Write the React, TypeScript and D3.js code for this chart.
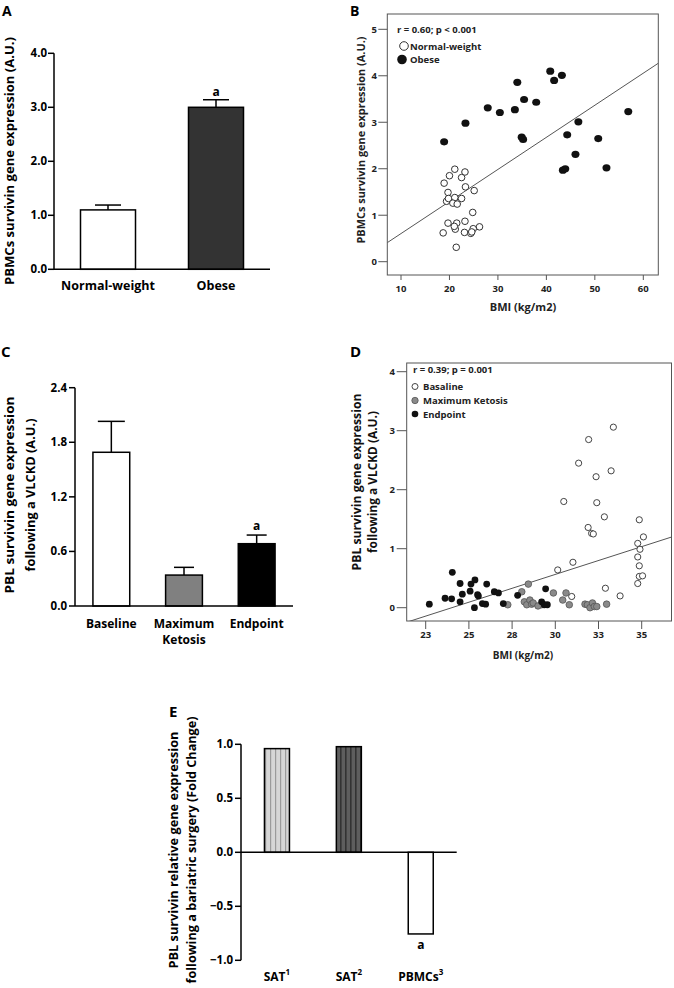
import React from 'react';
import * as d3 from 'd3';

const FONT = "'Open Sans', 'DejaVu Sans', sans-serif";

// ---------- Panel A ----------
const aCategories = ['Normal-weight', 'Obese'];
const aMeans = [1.1, 3.0];
const aErrors = [0.09, 0.14];
const aFills = ['#ffffff', '#333333'];
const aTicks = [0, 1, 2, 3, 4];
const aSignif = ['', 'a'];

// ---------- Panel B ----------
const bNormalBmi = [21.1, 23.2, 20.0, 22.5, 18.9, 23.3, 25.1, 19.7, 19.4, 19.8, 21.1, 20.7, 21.6, 22.5, 24.8, 19.7, 21.5, 23.2, 18.7, 21.2, 21.0, 23.1, 24.4, 24.9, 26.2, 24.6, 21.4];
const bNormalExpr = [1.99, 1.93, 1.85, 1.81, 1.69, 1.61, 1.53, 1.49, 1.3, 1.36, 1.38, 1.26, 1.24, 1.36, 1.06, 0.83, 0.83, 0.87, 0.62, 0.7, 0.76, 0.63, 0.61, 0.71, 0.75, 0.64, 0.31];
const bObeseBmi = [18.9, 23.3, 27.9, 30.4, 33.5, 34.0, 35.4, 37.9, 34.9, 35.2, 40.8, 41.6, 43.2, 46.6, 44.3, 46.0, 43.4, 43.9, 50.7, 52.4, 56.9];
const bObeseExpr = [2.58, 2.98, 3.31, 3.21, 3.27, 3.86, 3.49, 3.43, 2.68, 2.63, 4.1, 3.9, 4.01, 3.01, 2.73, 2.31, 1.97, 2.0, 2.65, 2.02, 3.23];
const bFitBmi = [7.17, 63.1];
const bFitExpr = [0.41, 4.27];
const bXTicks = [10, 20, 30, 40, 50, 60];
const bYTicks = [0, 1, 2, 3, 4, 5];

// ---------- Panel C ----------
const cCategories = ['Baseline', 'Maximum Ketosis', 'Endpoint'];
const cLabelLines = [['Baseline'], ['Maximum', 'Ketosis'], ['Endpoint']];
const cMeans = [1.69, 0.34, 0.685];
const cErrors = [0.34, 0.085, 0.095];
const cFills = ['#ffffff', '#808080', '#000000'];
const cTicks = [0, 0.6, 1.2, 1.8, 2.4];
const cSignif = ['', '', 'a'];

// ---------- Panel D ----------
const dBaseBmi = [33.36, 31.93, 31.35, 33.23, 32.36, 30.49, 32.4, 32.84, 31.9, 32.1, 32.2, 34.86, 35.1, 34.77, 34.9, 34.77, 34.86, 34.86, 35.05, 34.77, 31.02, 30.14, 32.9, 33.75, 30.95];
const dBaseExpr = [3.06, 2.85, 2.45, 2.32, 2.22, 1.8, 1.78, 1.54, 1.36, 1.26, 1.25, 1.49, 1.2, 1.09, 0.99, 0.86, 0.71, 0.53, 0.54, 0.41, 0.77, 0.64, 0.33, 0.2, 0.19];
const dKetoBmi = [27.25, 28.06, 28.44, 28.21, 28.35, 28.53, 28.63, 28.72, 29.2, 29.89, 30.43, 30.62, 30.81, 31.72, 31.86, 32.01, 32.15, 32.26, 32.4, 32.97, 29.0];
const dKetoExpr = [0.05, 0.27, 0.4, 0.1, 0.05, 0.13, 0.06, 0.08, 0.05, 0.25, 0.13, 0.25, 0.05, 0.06, 0.05, 0.0, 0.08, 0.02, 0.02, 0.06, 0.03];
const dEndBmi = [22.71, 24.04, 23.62, 24.0, 24.49, 24.49, 24.62, 25.12, 25.07, 25.35, 25.55, 25.32, 25.78, 25.97, 26.03, 26.47, 26.71, 26.99, 27.82, 29.44, 29.21, 29.36, 29.54, 25.5];
const dEndExpr = [0.06, 0.6, 0.16, 0.15, 0.41, 0.1, 0.23, 0.4, 0.28, 0.47, 0.2, 0.0, 0.07, 0.06, 0.4, 0.27, 0.25, 0.07, 0.21, 0.32, 0.1, 0.05, 0.05, 0.22];
const dFitBmi = [21.4, 36.75];
const dFitExpr = [-0.246, 1.2];
const dXTicks = [22.5, 25, 27.5, 30, 32.5, 35];
const dXTickLabels = ['23', '25', '28', '30', '33', '35'];
const dYTicks = [0, 1, 2, 3, 4];

// ---------- Panel E ----------
const eCategories = ['SAT1', 'SAT2', 'PBMCs3'];
const eLabels = ['SAT', 'SAT', 'PBMCs'];
const eSups = ['1', '2', '3'];
const eValues = [0.96, 0.978, -0.756];
const eFills = ['url(#stripeLight)', 'url(#stripeDark)', '#ffffff'];
const eTicks = [-1, -0.5, 0, 0.5, 1];
const eSignif = ['', '', 'a'];

const fmt1 = d3.format('.1f');

function PanelA() {
  const y = d3.scaleLinear().domain([0, 4]).range([269.3, 53.3]);
  const x = d3.scalePoint().domain(aCategories).range([54, 270]).padding(0.5);
  const bw = 55;
  return (
    <g>
      <text x={2} y={16} fontFamily={FONT} fontWeight="bold" fontSize={14}>A</text>
      {aCategories.map((c, i) => {
        const cx = x(c)!;
        return (
          <g key={c}>
            <line x1={cx} x2={cx} y1={y(aMeans[i])} y2={y(aMeans[i] + aErrors[i])} stroke="#000" strokeWidth={1.5} />
            <line x1={cx - 13} x2={cx + 13} y1={y(aMeans[i] + aErrors[i])} y2={y(aMeans[i] + aErrors[i])} stroke="#000" strokeWidth={1.5} />
            <rect x={cx - bw / 2} y={y(aMeans[i])} width={bw} height={y(0) - y(aMeans[i])} fill={aFills[i]} stroke="#000" strokeWidth={1.5} />
            {aSignif[i] && (
              <text x={cx} y={y(aMeans[i] + aErrors[i]) - 4} textAnchor="middle" fontFamily={FONT} fontWeight="bold" fontSize={12}>{aSignif[i]}</text>
            )}
            <text x={cx} y={290} textAnchor="middle" fontFamily={FONT} fontWeight="bold" fontSize={12.5}>{c}</text>
          </g>
        );
      })}
      <line x1={54} x2={54} y1={y(4)} y2={y(0)} stroke="#000" strokeWidth={1.5} />
      <line x1={54} x2={270} y1={y(0)} y2={y(0)} stroke="#000" strokeWidth={1.5} />
      {aTicks.map((t) => (
        <g key={t}>
          <line x1={48} x2={54} y1={y(t)} y2={y(t)} stroke="#000" strokeWidth={1.5} />
          <text x={47} y={y(t) + 4} textAnchor="end" fontFamily={FONT} fontWeight="bold" fontSize={11.5}>{fmt1(t)}</text>
        </g>
      ))}
      <text transform="translate(14,161) rotate(-90)" textAnchor="middle" fontFamily={FONT} fontWeight="bold" fontSize={12.5} textLength={248} lengthAdjust="spacingAndGlyphs">PBMCs survivin gene expression (A.U.)</text>
    </g>
  );
}

function PanelB() {
  const x = d3.scaleLinear().domain([10, 60]).range([401, 643.3]);
  const y = d3.scaleLinear().domain([0, 5]).range([261.7, 29.3]);
  const fL = 387.3, fR = 658.3, fT = 14, fB = 275;
  const normal = d3.zip(bNormalBmi, bNormalExpr);
  const obese = d3.zip(bObeseBmi, bObeseExpr);
  const fit = d3.line<[number, number]>().x((d) => x(d[0])).y((d) => y(d[1]))(d3.zip(bFitBmi, bFitExpr) as [number, number][]);
  return (
    <g>
      <defs>
        <clipPath id="clipB"><rect x={fL} y={fT} width={fR - fL} height={fB - fT} /></clipPath>
      </defs>
      <text x={350} y={16} fontFamily={FONT} fontWeight="bold" fontSize={14}>B</text>
      <rect x={fL} y={fT} width={fR - fL} height={fB - fT} fill="#fff" stroke="#555" strokeWidth={1} />
      {bYTicks.map((t) => (
        <g key={t}>
          <line x1={fL - 9} x2={fL} y1={y(t)} y2={y(t)} stroke="#555" strokeWidth={1} />
          <text x={377} y={y(t) + 3.5} textAnchor="end" fontFamily={FONT} fontWeight="bold" fontSize={9.5} fill="#222">{t}</text>
        </g>
      ))}
      {bXTicks.map((t) => (
        <g key={t}>
          <line x1={x(t)} x2={x(t)} y1={fB} y2={fB + 5} stroke="#555" strokeWidth={1} />
          <text x={x(t)} y={292} textAnchor="middle" fontFamily={FONT} fontWeight="bold" fontSize={9.5} fill="#222">{t}</text>
        </g>
      ))}
      <path d={fit!} stroke="#555" strokeWidth={1} fill="none" clipPath="url(#clipB)" />
      {normal.map((d, i) => (
        <circle key={'n' + i} cx={x(d[0])} cy={y(d[1])} r={3.3} fill="#fff" stroke="#333" strokeWidth={1} />
      ))}
      {obese.map((d, i) => (
        <ellipse key={'o' + i} cx={x(d[0])} cy={y(d[1])} rx={4} ry={3.6} fill="#111" />
      ))}
      <text x={397} y={33} fontFamily={FONT} fontWeight="bold" fontSize={9.5} fill="#222">r = 0.60; p &lt; 0.001</text>
      <circle cx={404} cy={46} r={4.3} fill="#fff" stroke="#333" strokeWidth={1} />
      <text x={410} y={49.5} fontFamily={FONT} fontWeight="bold" fontSize={9.5} fill="#222">Normal-weight</text>
      <circle cx={402} cy={59.5} r={4.8} fill="#111" />
      <text x={410} y={63} fontFamily={FONT} fontWeight="bold" fontSize={9.5} fill="#222">Obese</text>
      <text transform="translate(365,140) rotate(-90)" textAnchor="middle" fontFamily={FONT} fontWeight="bold" fontSize={10.5} fill="#222" textLength={207} lengthAdjust="spacingAndGlyphs">PBMCs survivin gene expression (A.U.)</text>
      <text x={523} y={311} textAnchor="middle" fontFamily={FONT} fontWeight="bold" fontSize={11} fill="#222">BMI (kg/m2)</text>
    </g>
  );
}

function PanelC() {
  const y = d3.scaleLinear().domain([0, 2.4]).range([606, 387.7]);
  const x = d3.scalePoint().domain(cCategories).range([75, 293]).padding(0.5);
  const bw = 36.8;
  return (
    <g>
      <text x={1} y={357} fontFamily={FONT} fontWeight="bold" fontSize={15}>C</text>
      {cCategories.map((c, i) => {
        const cx = x(c)!;
        const top = y(cMeans[i] + cErrors[i]);
        const cap = i === 0 ? 13.5 : 10;
        return (
          <g key={c}>
            <line x1={cx} x2={cx} y1={y(cMeans[i])} y2={top} stroke="#000" strokeWidth={1.5} />
            <line x1={cx - cap} x2={cx + cap} y1={top} y2={top} stroke="#000" strokeWidth={1.5} />
            <rect x={cx - bw / 2} y={y(cMeans[i])} width={bw} height={y(0) - y(cMeans[i])} fill={cFills[i]} stroke="#000" strokeWidth={1.5} />
            {cSignif[i] && (
              <text x={cx} y={top - 5} textAnchor="middle" fontFamily={FONT} fontWeight="bold" fontSize={12}>{cSignif[i]}</text>
            )}
            {cLabelLines[i].map((l, k) => (
              <text key={k} x={cx} y={628 + k * 15.5} textAnchor="middle" fontFamily={FONT} fontWeight="bold" fontSize={12}>{l}</text>
            ))}
          </g>
        );
      })}
      <line x1={75} x2={75} y1={y(2.4)} y2={y(0)} stroke="#000" strokeWidth={1.5} />
      <line x1={75} x2={293} y1={y(0)} y2={y(0)} stroke="#000" strokeWidth={1.5} />
      {cTicks.map((t) => (
        <g key={t}>
          <line x1={69} x2={75} y1={y(t)} y2={y(t)} stroke="#000" strokeWidth={1.5} />
          <text x={67} y={y(t) + 4} textAnchor="end" fontFamily={FONT} fontWeight="bold" fontSize={11.5}>{fmt1(t)}</text>
        </g>
      ))}
      <text transform="translate(14,495) rotate(-90)" textAnchor="middle" fontFamily={FONT} fontWeight="bold" fontSize={12.5} textLength={197} lengthAdjust="spacingAndGlyphs">PBL survivin gene expression</text>
      <text transform="translate(35,495) rotate(-90)" textAnchor="middle" fontFamily={FONT} fontWeight="bold" fontSize={12.5} textLength={153} lengthAdjust="spacingAndGlyphs">following a VLCKD (A.U.)</text>
    </g>
  );
}

function PanelD() {
  const x = d3.scaleLinear().domain([22.5, 35]).range([425.7, 641.7]);
  const y = d3.scaleLinear().domain([0, 4]).range([607.7, 371.7]);
  const fL = 406.7, fR = 671.5, fT = 363, fB = 621;
  const fit = d3.line<[number, number]>().x((d) => x(d[0])).y((d) => y(d[1]))(d3.zip(dFitBmi, dFitExpr) as [number, number][]);
  const base = d3.zip(dBaseBmi, dBaseExpr);
  const keto = d3.zip(dKetoBmi, dKetoExpr);
  const end = d3.zip(dEndBmi, dEndExpr);
  return (
    <g>
      <defs>
        <clipPath id="clipD"><rect x={fL} y={fT} width={fR - fL} height={fB - fT} /></clipPath>
      </defs>
      <text x={350} y={357} fontFamily={FONT} fontWeight="bold" fontSize={15}>D</text>
      <rect x={fL} y={fT} width={fR - fL} height={fB - fT} fill="#fff" stroke="#555" strokeWidth={1} />
      {dYTicks.map((t) => (
        <g key={t}>
          <line x1={fL - 10} x2={fL} y1={y(t)} y2={y(t)} stroke="#555" strokeWidth={1} />
          <text x={395} y={y(t) + 3.5} textAnchor="end" fontFamily={FONT} fontWeight="bold" fontSize={9.5} fill="#222">{t}</text>
        </g>
      ))}
      {dXTicks.map((t, i) => (
        <g key={t}>
          <line x1={x(t)} x2={x(t)} y1={fB} y2={fB + 8} stroke="#555" strokeWidth={1} />
          <text x={x(t)} y={638} textAnchor="middle" fontFamily={FONT} fontWeight="bold" fontSize={9.5} fill="#222">{dXTickLabels[i]}</text>
        </g>
      ))}
      <path d={fit!} stroke="#555" strokeWidth={1} fill="none" clipPath="url(#clipD)" />
      {base.map((d, i) => (
        <circle key={'b' + i} cx={x(d[0])} cy={y(d[1])} r={3.1} fill="#fff" stroke="#444" strokeWidth={1} />
      ))}
      {keto.map((d, i) => (
        <circle key={'k' + i} cx={x(d[0])} cy={y(d[1])} r={3.3} fill="#8a8a8a" stroke="#555" strokeWidth={0.8} />
      ))}
      {end.map((d, i) => (
        <circle key={'e' + i} cx={x(d[0])} cy={y(d[1])} r={3.4} fill="#111" />
      ))}
      <text x={413} y={373} fontFamily={FONT} fontWeight="bold" fontSize={9.5} fill="#222">r = 0.39; p = 0.001</text>
      <circle cx={415} cy={386.5} r={3} fill="#fff" stroke="#444" strokeWidth={1} />
      <text x={423} y={390} fontFamily={FONT} fontWeight="bold" fontSize={9.5} fill="#222">Basaline</text>
      <circle cx={415} cy={400.5} r={3.2} fill="#8a8a8a" stroke="#555" strokeWidth={0.8} />
      <text x={423} y={404} fontFamily={FONT} fontWeight="bold" fontSize={9.5} fill="#222">Maximum Ketosis</text>
      <circle cx={415} cy={414} r={3.3} fill="#111" />
      <text x={423} y={417.5} fontFamily={FONT} fontWeight="bold" fontSize={9.5} fill="#222">Endpoint</text>
      <text transform="translate(361,482) rotate(-90)" textAnchor="middle" fontFamily={FONT} fontWeight="bold" fontSize={11.5} fill="#111" textLength={177} lengthAdjust="spacingAndGlyphs">PBL survivin gene expression</text>
      <text transform="translate(377,482) rotate(-90)" textAnchor="middle" fontFamily={FONT} fontWeight="bold" fontSize={11.5} fill="#111" textLength={142} lengthAdjust="spacingAndGlyphs">following a VLCKD (A.U.)</text>
      <text x={523} y={659} textAnchor="middle" fontFamily={FONT} fontWeight="bold" fontSize={10} fill="#222">BMI (kg/m2)</text>
    </g>
  );
}

function PanelE() {
  const y = d3.scaleLinear().domain([-1, 1]).range([960.3, 744.3]);
  const x = d3.scalePoint().domain(eCategories).range([241, 456.7]).padding(0.5);
  const bw = 25;
  return (
    <g>
      <defs>
        <pattern id="stripeLight" patternUnits="userSpaceOnUse" width={5} height={10}>
          <rect width={5} height={10} fill="#d6d6d6" />
          <rect x={0} width={1.2} height={10} fill="#9a9a9a" />
        </pattern>
        <pattern id="stripeDark" patternUnits="userSpaceOnUse" width={5} height={10}>
          <rect width={5} height={10} fill="#5e5e5e" />
          <rect x={0} width={1.6} height={10} fill="#333333" />
        </pattern>
      </defs>
      <text x={169} y={717} fontFamily={FONT} fontWeight="bold" fontSize={15}>E</text>
      {eCategories.map((c, i) => {
        const cx = x(c)!;
        const v = eValues[i];
        const y0 = y(Math.max(0, v));
        const h = Math.abs(y(v) - y(0));
        return (
          <g key={c}>
            <rect x={cx - bw / 2} y={y0} width={bw} height={h} fill={eFills[i]} stroke="#000" strokeWidth={1.5} />
            {eSignif[i] && (
              <text x={cx} y={949} textAnchor="middle" fontFamily={FONT} fontWeight="bold" fontSize={12}>{eSignif[i]}</text>
            )}
            <text x={cx} y={981} textAnchor="middle" fontFamily={FONT} fontWeight="bold" fontSize={12}>
              {eLabels[i]}
              <tspan dy={-6} fontSize={8}>{eSups[i]}</tspan>
            </text>
          </g>
        );
      })}
      <line x1={241} x2={241} y1={y(1)} y2={y(-1)} stroke="#000" strokeWidth={1.5} />
      <line x1={241} x2={456.7} y1={y(0)} y2={y(0)} stroke="#000" strokeWidth={1.5} />
      {eTicks.map((t) => (
        <g key={t}>
          <line x1={235} x2={241} y1={y(t)} y2={y(t)} stroke="#000" strokeWidth={1.5} />
          <text x={233} y={y(t) + 4} textAnchor="end" fontFamily={FONT} fontWeight="bold" fontSize={11.5}>{fmt1(t)}</text>
        </g>
      ))}
      <text transform="translate(178,850) rotate(-90)" textAnchor="middle" fontFamily={FONT} fontWeight="bold" fontSize={12} textLength={237} lengthAdjust="spacingAndGlyphs">PBL survivin relative gene expression</text>
      <text transform="translate(196,850) rotate(-90)" textAnchor="middle" fontFamily={FONT} fontWeight="bold" fontSize={12} textLength={267} lengthAdjust="spacingAndGlyphs">following a bariatric surgery (Fold Change)</text>
    </g>
  );
}

export default function App() {
  return (
    <svg width={674} height={988} style={{ position: 'absolute', left: 0, top: 0, background: '#fff' }}>
      <rect width={674} height={988} fill="#fff" />
      <PanelA />
      <PanelB />
      <PanelC />
      <PanelD />
      <PanelE />
    </svg>
  );
}
